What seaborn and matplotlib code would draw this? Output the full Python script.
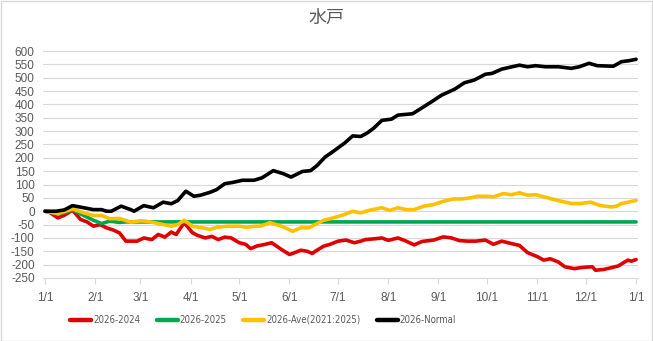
import matplotlib
matplotlib.use("Agg")
import matplotlib.pyplot as plt
import seaborn as sns
import pandas as pd
from matplotlib.patches import Rectangle
from matplotlib.font_manager import FontProperties

# ---- data (day of year, value) ----
red_days = [0, 3, 8, 12, 17, 22, 26, 30, 34, 38, 42, 46, 50, 57, 61, 66, 70, 74, 78, 81, 86, 91, 94, 99,
            103, 107, 111, 115, 120, 124, 127, 131, 136, 140, 146, 151, 153, 158, 162, 165, 168, 172, 176,
            181, 186, 191, 195, 198, 204, 208, 212, 218, 223, 228, 233, 240, 246, 251, 256, 261, 266, 272,
            277, 282, 288, 293, 298, 304, 308, 312, 317, 321, 327, 331, 335, 338, 340, 345, 350, 354, 358,
            360, 362, 365]
red_vals = [0, -5, -25, -15, 4, -31, -40, -56, -50, -62, -70, -81, -112, -112, -100, -106, -87, -97, -78, -87,
            -43, -80, -90, -100, -94, -106, -97, -100, -118, -124, -140, -130, -124, -118, -143, -162, -158,
            -146, -150, -158, -146, -131, -124, -112, -108, -118, -112, -106, -103, -100, -109, -100, -112,
            -126, -113, -108, -96, -100, -110, -112, -112, -108, -124, -112, -121, -128, -155, -170, -183,
            -178, -190, -208, -215, -211, -209, -208, -221, -218, -211, -205, -190, -183, -187, -181]

green_days = [0, 5, 8, 12, 17, 22, 26, 30, 35, 40, 46, 50, 365]
green_vals = [0, -5, -10, -5, 6, -10, -22, -34, -46, -37, -42, -40, -40]

yellow_days = [0, 8, 17, 24, 30, 35, 40, 46, 53, 59, 62, 66, 70, 78, 82, 86, 91, 97, 102, 107, 113, 120,
               124, 130, 133, 139, 146, 153, 158, 163, 168, 172, 178, 185, 190, 195, 200, 208, 213, 218,
               223, 228, 234, 240, 246, 252, 257, 263, 267, 273, 277, 283, 288, 293, 298, 303, 308, 313,
               319, 325, 331, 337, 343, 350, 353, 356, 360, 365]
yellow_vals = [0, -9, 9, -6, -16, -16, -28, -27, -41, -36, -37, -41, -46, -56, -50, -34, -56, -62, -68, -59,
               -56, -56, -60, -56, -56, -43, -56, -75, -62, -62, -46, -34, -25, -12, 0, -6, 3, 13, 3, 13, 6,
               6, 19, 25, 37, 46, 46, 50, 56, 56, 54, 66, 62, 69, 60, 62, 54, 46, 37, 29, 29, 34, 21, 16,
               19, 29, 34, 40]

black_days = [0, 7, 12, 17, 24, 30, 35, 38, 41, 47, 53, 55, 61, 67, 73, 78, 82, 87, 92, 96, 102, 106, 111,
              116, 122, 129, 134, 141, 147, 152, 159, 164, 168, 173, 178, 185, 190, 195, 199, 203, 208,
              214, 218, 227, 232, 238, 245, 253, 259, 265, 272, 276, 282, 287, 293, 298, 303, 309, 317,
              325, 330, 336, 341, 351, 356, 361, 365]
black_vals = [0, 0, 5, 21, 13, 6, 6, 0, 0, 19, 6, 0, 21, 13, 34, 28, 40, 75, 56, 60, 71, 81, 103, 108, 116,
              116, 125, 152, 141, 128, 149, 152, 171, 203, 224, 255, 282, 280, 293, 311, 340, 345, 360,
              365, 384, 407, 435, 457, 481, 491, 513, 516, 532, 539, 547, 541, 545, 541, 541, 535, 541,
              554, 545, 543, 560, 564, 569]

series_names = ["2026-2024", "2026-2025", "2026-Ave(2021:2025)", "2026-Normal"]
series_colors = ["#E00000", "#00A650", "#FFC000", "#000000"]

tick_days = [0, 31, 59, 90, 120, 151, 181, 212, 243, 273, 304, 334, 365]
tick_labels = ["1/1", "2/1", "3/1", "4/1", "5/1", "6/1", "7/1", "8/1", "9/1", "10/1", "11/1", "12/1", "1/1"]
y_ticks = list(range(-250, 601, 50))
title_text = "水戸"

# ---- build long table ----
frames = []
for name, d, v in zip(series_names,
                      [red_days, green_days, yellow_days, black_days],
                      [red_vals, green_vals, yellow_vals, black_vals]):
    frames.append(pd.DataFrame({"day": d, "value": v, "series": name}))
df = pd.concat(frames, ignore_index=True)

sns.set_theme(style="white")
plt.rcParams["font.family"] = ["Liberation Sans Narrow", "Liberation Sans", "DejaVu Sans"]

fig = plt.figure(figsize=(6.53, 3.41), dpi=100)
ax = fig.add_axes([43 / 653, 1 - 278 / 341, (638 - 43) / 653, (278 - 51) / 341])

sns.lineplot(data=df, x="day", y="value", hue="series", hue_order=series_names,
             palette=dict(zip(series_names, series_colors)), estimator=None, sort=False,
             linewidth=2.6, ax=ax, legend=True)

ax.set_xlim(-1.2, 366.2)
ax.set_ylim(-250, 600)
ax.set_yticks(y_ticks)
ax.set_yticklabels([str(t) for t in y_ticks])
ax.set_xticks(tick_days)
ax.set_xticklabels(tick_labels)
ax.set_xlabel("")
ax.set_ylabel("")
ax.grid(axis="y", color="#D9D9D9", linewidth=0.8)
ax.set_axisbelow(True)
for s in ["top", "right", "left"]:
    ax.spines[s].set_visible(False)
ax.spines["bottom"].set_color("#D9D9D9")
ax.spines["bottom"].set_linewidth(0.8)
ax.tick_params(axis="x", colors="#D9D9D9", labelcolor="#595959", labelsize=8.5,
               direction="out", length=4, width=0.8, pad=6, bottom=True)
ax.tick_params(axis="y", labelcolor="#595959", labelsize=8.5, length=0, pad=6)

leg_font = FontProperties(family="DejaVu Sans", stretch="condensed", size=6.9)
leg = ax.legend(loc="center", bbox_to_anchor=((263 - 43) / 595, -(320 - 278) / 227), ncol=4,
                frameon=False, prop=leg_font, handlelength=2.2, columnspacing=1.7,
                handletextpad=0.2, borderpad=0)
for t in leg.get_texts():
    t.set_color("#595959")
for h in leg.get_lines():
    h.set_linewidth(3.2)

fig.text(0.5, 1 - 18 / 341, title_text, ha="center", va="center", fontsize=13, color="#595959",
         family=["Noto Sans CJK JP", "DejaVu Sans"])

fig.patches.append(Rectangle((0.5 / 653, 0.5 / 341), 1 - 1.5 / 653, 1 - 1.5 / 341,
                             transform=fig.transFigure, fill=False, edgecolor="#D9D9D9",
                             linewidth=1))

fig.savefig("out.png", dpi=100)
